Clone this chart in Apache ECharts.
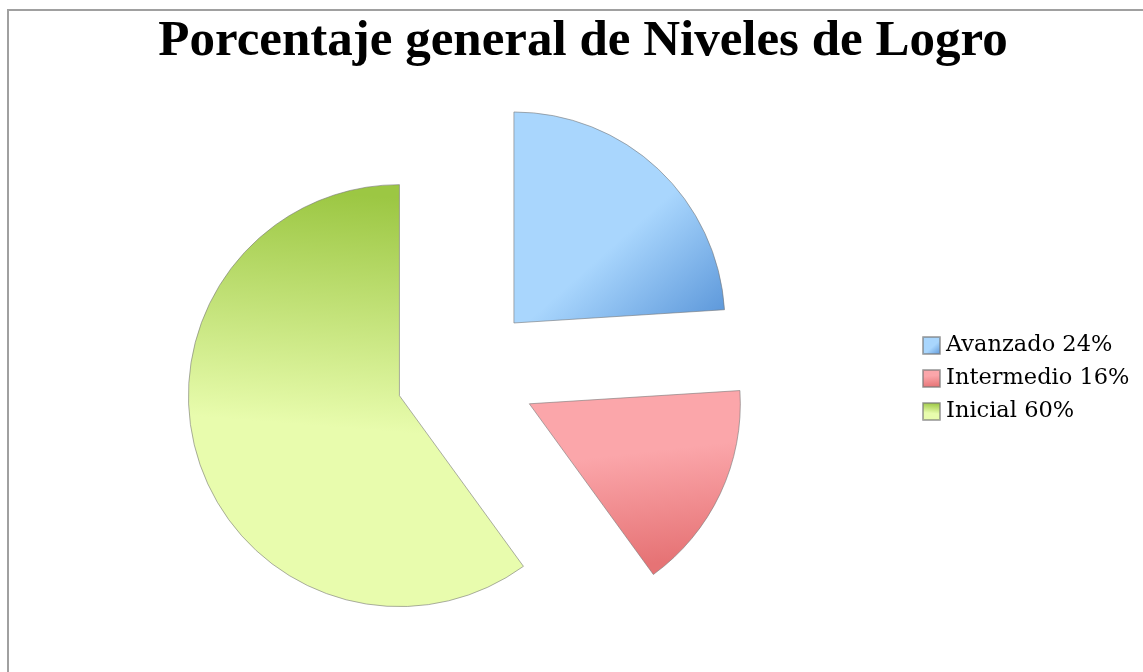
<!DOCTYPE html>
<html>
<head>
<meta charset="utf-8">
<script src="https://cdn.jsdelivr.net/npm/echarts@6/dist/echarts.min.js"></script>
<style>
html,body{margin:0;padding:0;background:#fff;}
#chart{width:1143px;height:672px;}
</style>
</head>
<body>
<div id="chart"></div>
<script>
const categories = ['Avanzado', 'Intermedio', 'Inicial'];
const values = [24, 16, 60];
const titleText = 'Porcentaje general de Niveles de Logro';

const gradients = [
  new echarts.graphic.LinearGradient(0.2, 0.1, 1, 1, [
    {offset: 0, color: '#a9d6fd'},
    {offset: 0.48, color: '#a9d6fd'},
    {offset: 1, color: '#5894d8'}
  ]),
  new echarts.graphic.LinearGradient(0, 0, 0.1, 1, [
    {offset: 0, color: '#fba6aa'},
    {offset: 0.4, color: '#fba6aa'},
    {offset: 1, color: '#e67375'}
  ]),
  new echarts.graphic.LinearGradient(0.1, 0, 0, 1, [
    {offset: 0, color: '#9cc743'},
    {offset: 0.55, color: '#e8fcad'},
    {offset: 1, color: '#e8fcad'}
  ])
];

const chart = echarts.init(document.getElementById('chart'), null, {renderer: 'canvas'});
chart.setOption({
  animation: false,
  backgroundColor: '#ffffff',
  title: {
    text: titleText,
    left: 578,
    textAlign: 'center',
    top: 11,
    textStyle: {fontFamily: 'Liberation Serif', fontWeight: 'bold', fontSize: 51, color: '#000'}
  },
  graphic: [{
    type: 'rect',
    shape: {x: 8, y: 10, width: 1160, height: 700},
    style: {fill: 'none', stroke: '#a0a0a0', lineWidth: 2},
    silent: true
  }],
  legend: {
    orient: 'vertical',
    left: 922,
    top: 334,
    padding: 0,
    itemWidth: 17,
    itemHeight: 17,
    itemGap: 10,
    selectedMode: false,
    icon: 'rect',
    formatter: function (name) {
      const i = categories.indexOf(name);
      return name + ' ' + values[i] + '%';
    },
    textStyle: {fontFamily: 'DejaVu Serif', fontSize: 22.5, lineHeight: 22, color: '#000', padding: [0, 0, 0, 1]}
  },
  series: [{
    type: 'pie',
    center: [466, 374],
    radius: 211,
    startAngle: 90,
    clockwise: true,
    selectedMode: 'multiple',
    selectedOffset: 70,
    label: {show: false},
    labelLine: {show: false},
    emphasis: {disabled: true},
    itemStyle: {borderColor: 'rgba(120,120,120,0.6)', borderWidth: 1},
    data: categories.map((c, i) => ({
      name: c,
      value: values[i],
      selected: true,
      itemStyle: {color: gradients[i]}
    }))
  }]
});
</script>
</body>
</html>
